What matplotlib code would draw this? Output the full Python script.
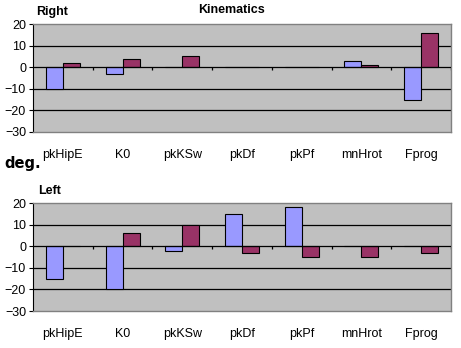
import numpy as np
import matplotlib
matplotlib.use("Agg")
import matplotlib.pyplot as plt

categories = ['pkHipE', 'K0', 'pkKSw', 'pkDf', 'pkPf', 'mnHrot', 'Fprog']
right_a = [-10, -3, 0, 0, 0, 3, -15]
right_b = [2, 4, 5, 0, 0, 1, 16]
left_a = [-15, -20, -2, 15, 18, 0, 0]
left_b = [0, 6, 10, -3, -5, -5, -3]
yticks = [-30, -20, -10, 0, 10, 20]

plt.rcParams['font.family'] = ['Liberation Sans', 'DejaVu Sans']

fig = plt.figure(figsize=(4.61, 3.48), dpi=100)
fig.patch.set_facecolor('white')

BLUE = '#9999FF'
PLUM = '#993366'
w = 1 / 3.5


def panel(rect, a, b):
    ax = fig.add_axes(rect)
    ax.set_facecolor('#C0C0C0')
    x = np.arange(len(categories))
    ax.bar(x - w / 2, a, w, color=BLUE, edgecolor='black', linewidth=0.8, zorder=3)
    ax.bar(x + w / 2, b, w, color=PLUM, edgecolor='black', linewidth=0.8, zorder=3)
    ax.set_xlim(-0.5, len(categories) - 0.5)
    ax.set_ylim(-30, 20)
    ax.set_yticks(yticks)
    ax.tick_params(axis='y', length=3, labelsize=9, pad=2)
    for g in [-20, -10, 10]:
        ax.axhline(g, color='black', linewidth=0.9, zorder=1)
    ax.axhline(0, color='black', linewidth=0.9, zorder=4)
    # category separators on the zero line
    bounds = np.arange(0.5, len(categories), 1.0)
    ax.vlines(bounds, -1.3, 0, color='black', linewidth=0.9, zorder=4)
    ax.set_xticks(x)
    ax.set_xticklabels(categories)
    ax.tick_params(axis='x', length=0, labelsize=9, pad=12)
    for s in ['top', 'right', 'bottom']:
        ax.spines[s].set_color('#808080')
        ax.spines[s].set_linewidth(1.0)
    ax.spines['left'].set_color('black')
    return ax


panel([0.0716, 0.6207, 0.9067, 0.3103], right_a, right_b)
panel([0.0716, 0.1063, 0.9067, 0.3103], left_a, left_b)

fig.text(52 / 461, 1 - 12 / 348, 'Right', ha='center', va='center', fontsize=9, fontweight='bold')
fig.text(231 / 461, 1 - 10 / 348, 'Kinematics', ha='center', va='center', fontsize=9, fontweight='bold')
fig.text(4 / 461, 1 - 163 / 348, 'deg.', ha='left', va='center', fontsize=10.5, fontweight='bold',
         family='DejaVu Sans')
fig.text(50 / 461, 1 - 191 / 348, 'Left', ha='center', va='center', fontsize=9, fontweight='bold')

fig.savefig('out.png', dpi=100)
